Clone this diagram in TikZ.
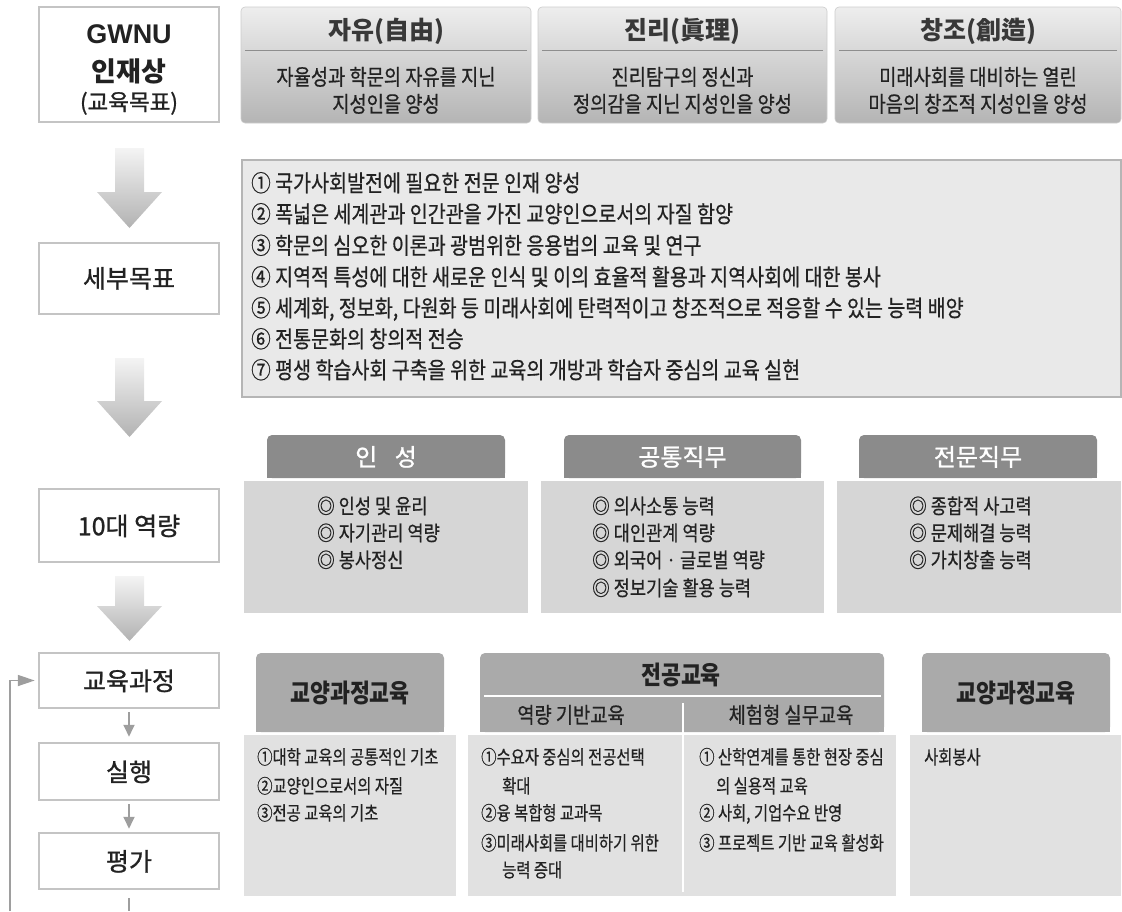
\documentclass[tikz,border=0pt]{standalone}
\usepackage{fontspec}
\setmainfont{Noto Sans CJK KR}
\newfontfamily\krn{Noto Sans CJK KR}
\newfontfamily\krm[FakeBold=1]{Noto Sans CJK KR}
\newfontfamily\krc[FakeStretch=0.85,FakeBold=0.6]{Noto Sans CJK KR}
\newfontfamily\krcb[FakeStretch=0.85]{Noto Sans CJK KR}
\newfontfamily\krcc[FakeStretch=0.8,FakeBold=0.5]{Noto Sans CJK KR}
\newfontfamily\lsans{Liberation Sans}
\usetikzlibrary{arrows.meta}
\definecolor{boxgray}{HTML}{C4C4C4}
\definecolor{txt}{HTML}{222222}
\definecolor{topA}{HTML}{EEEEEE}
\definecolor{topB}{HTML}{DEDEDE}
\definecolor{topC}{HTML}{B4B4B4}
\definecolor{topedge}{HTML}{CCCCCC}
\definecolor{topline}{HTML}{8E8E8E}
\definecolor{listfill}{HTML}{E9E9E9}
\definecolor{listborder}{HTML}{B5B5B5}
\definecolor{comphead}{HTML}{8B8B8B}
\definecolor{compbody}{HTML}{D6D6D6}
\definecolor{curhead}{HTML}{AAAAAA}
\definecolor{curbody}{HTML}{E1E1E1}
\definecolor{arrA}{HTML}{F4F4F4}
\definecolor{arrB}{HTML}{B2B2B2}
\definecolor{arrgray}{HTML}{9E9E9E}
\begin{document}
\begin{tikzpicture}[x=1pt,y=1pt,
  lbox/.style={draw=boxgray, line width=2.5pt, fill=white, minimum width=180pt, inner sep=0},
  topbox/.style={rounded corners=4pt, top color=topA, middle color=topB, bottom color=topC, draw=topedge, line width=0.6pt, minimum height=116pt, inner sep=0},
  listbox/.style={fill=listfill, draw=listborder, line width=2pt, inner sep=0},
  cheadbox/.style={fill=comphead, rounded corners=5pt, minimum height=43pt, inner sep=0},
  cbodybox/.style={fill=compbody, minimum height=132pt, inner sep=0},
  kheadbox/.style={fill=curhead, rounded corners=5pt, minimum height=79pt, inner sep=0},
  kbodybox/.style={fill=curbody, minimum height=161pt, inner sep=0},
  ttl/.style={font=\krn\bfseries\fontsize{25}{29}\selectfont, text=txt!90!white, inner sep=0, text height=18.5pt, text depth=0pt},
  tbody/.style={font=\krc\fontsize{22}{26}\selectfont, text=txt, inner sep=0, text height=16.3pt, text depth=0pt},
  gwl/.style={font=\lsans\bfseries\fontsize{27}{31}\selectfont, text=txt, inner sep=0, text height=19.3pt, text depth=0pt},
  gwk/.style={font=\krn\bfseries\fontsize{27}{31}\selectfont, text=txt, inner sep=0, text height=20pt, text depth=0pt},
  gwp/.style={font=\krm\fontsize{22.5}{26}\selectfont, text=txt, inner sep=0, text height=16.6pt, text depth=0pt},
  llab/.style={font=\krm\fontsize{25}{29}\selectfont, text=txt, inner sep=0, text height=18.5pt, text depth=0pt},
  litem/.style={font=\krc\fontsize{23}{27}\selectfont, text=txt, inner sep=0, text height=17pt, text depth=0pt, anchor=west},
  chead/.style={font=\krm\fontsize{24}{28}\selectfont, text=white, inner sep=0, text height=17.8pt, text depth=0pt},
  citem/.style={font=\krc\fontsize{20.7}{24}\selectfont, text=txt, inner sep=0, text height=15.3pt, text depth=0pt, anchor=west},
  khead/.style={font=\krcb\bfseries\fontsize{25.5}{29}\selectfont, text=txt, inner sep=0, text height=18.9pt, text depth=0pt},
  ksub/.style={font=\krc\fontsize{22}{26}\selectfont, text=txt, inner sep=0, text height=16.3pt, text depth=0pt},
  kitem/.style={font=\krcc\fontsize{19.2}{23}\selectfont, text=txt, inner sep=0, text height=14.2pt, text depth=0pt, anchor=west},
  sarr/.style={draw=arrgray, line width=1.8pt, -{Triangle[length=12pt,width=11pt]}},
  farr/.style={draw=arrgray, line width=1.8pt, -{Triangle[length=17pt,width=11pt]}},
  sline/.style={draw=arrgray, line width=1.8pt},
  bigarr/.style={top color=arrA, bottom color=arrB, draw=none}
]
\useasboundingbox (0,0) rectangle (1122,-911);

% ---------- left column ----------
\node[lbox, minimum height=115pt] (gw) at (129,-64.5) {};
\node[gwl] (gwa) at (129,-34) {GWNU};
\node[gwk] (gwb) at (129,-71) {인재상};
\node[gwp] (gwc) at (129,-102) {(교육목표)};

\node[lbox, minimum height=71pt] (sb) at (129,-278.5) {};
\node[llab] (sbt) at (129,-278.5) {세부목표};

\node[lbox, minimum height=73pt] (yr) at (129,-525.5) {};
\node[llab] (yrt) at (129,-526) {10대 역량};

\node[lbox, minimum height=55pt] (c1) at (129,-680.5) {};
\node[llab] (c1t) at (129,-681) {교육과정};
\node[lbox, minimum height=57pt] (c2) at (129,-771.5) {};
\node[llab] (c2t) at (129,-772) {실행};
\node[lbox, minimum height=56pt] (c3) at (129,-861) {};
\node[llab] (c3t) at (129,-861.5) {평가};

% big block arrows
\shade[bigarr] (115,-148) -- (144,-148) -- (144,-192) -- (162,-192) -- (129.5,-228) -- (97,-192) -- (115,-192) -- cycle;
\shade[bigarr] (115,-358) -- (144,-358) -- (144,-401) -- (162,-401) -- (129.5,-437) -- (97,-401) -- (115,-401) -- cycle;
\shade[bigarr] (115,-576) -- (144,-576) -- (144,-606) -- (162,-606) -- (129.5,-641) -- (97,-606) -- (115,-606) -- cycle;

% small arrows and feedback loop
\draw[sarr, shorten <=3pt, shorten >=5pt] (c1) -- (c2);
\draw[sarr, shorten <=3pt, shorten >=3pt] (c2) -- (c3);
\coordinate (pgb) at (129,-911);
\draw[sline, shorten <=8pt] (c3) -- (pgb);
\coordinate (fbs) at (10,-911);
\draw[farr, shorten >=3pt] (fbs) |- (c1);

% ---------- top row ----------
\node[topbox, minimum width=290pt] (t1) at (386,-65) {};
\node[topbox, minimum width=289pt] (t2) at (682.5,-65) {};
\node[topbox, minimum width=286pt] (t3) at (978,-65) {};
\draw[topline, line width=0.9pt] (245,-50) -- (527,-50);
\draw[topline, line width=0.9pt] (542,-50) -- (823,-50);
\draw[topline, line width=0.9pt] (839,-50) -- (1117,-50);
\node[ttl] (t1a) at (386,-30) {자유(自由)};
\node[tbody] (t1b) at (386,-77) {자율성과 학문의 자유를 지닌};
\node[tbody] (t1c) at (386,-104) {지성인을 양성};
\node[ttl] (t2a) at (682.5,-30) {진리(眞理)};
\node[tbody] (t2b) at (682.5,-77) {진리탐구의 정신과};
\node[tbody] (t2c) at (682.5,-104) {정의감을 지닌 지성인을 양성};
\node[ttl] (t3a) at (978,-30) {창조(創造)};
\node[tbody] (t3b) at (978,-77) {미래사회를 대비하는 열린};
\node[tbody] (t3c) at (978,-104) {마음의 창조적 지성인을 양성};

% ---------- detailed goals ----------
\node[listbox, minimum width=879pt, minimum height=237pt] (gl) at (681.5,-278.5) {};
\node[litem] (g1) at (251,-183) {① 국가사회발전에 필요한 전문 인재 양성};
\node[litem] (g2) at (251,-214) {② 폭넓은 세계관과 인간관을 가진 교양인으로서의 자질 함양};
\node[litem] (g3) at (251,-245.5) {③ 학문의 심오한 이론과 광범위한 응용법의 교육 및 연구};
\node[litem] (g4) at (251,-277) {④ 지역적 특성에 대한 새로운 인식 및 이의 효율적 활용과 지역사회에 대한 봉사};
\node[litem] (g5) at (251,-308) {⑤ 세계화, 정보화, 다원화 등 미래사회에 탄력적이고 창조적으로 적응할 수 있는 능력 배양};
\node[litem] (g6) at (251,-339) {⑥ 전통문화의 창의적 전승};
\node[litem] (g7) at (251,-370) {⑦ 평생 학습사회 구축을 위한 교육의 개방과 학습자 중심의 교육 실현};

% ---------- competencies ----------
\node[cheadbox, minimum width=238pt] (h1) at (386,-456.5) {};
\node[cheadbox, minimum width=237pt] (h2) at (682.5,-456.5) {};
\node[cheadbox, minimum width=238pt] (h3) at (978,-456.5) {};
\fill[comphead] (h1.west) rectangle (h1.south east);
\fill[comphead] (h2.west) rectangle (h2.south east);
\fill[comphead] (h3.west) rectangle (h3.south east);
\node[chead] (h1t) at (386,-457) {인\,\,\, 성};
\node[chead] (h2t) at (682.5,-457) {공통직무};
\node[chead] (h3t) at (978,-457) {전문직무};

\node[cbodybox, minimum width=284pt] (b1) at (386,-547) {};
\node[cbodybox, minimum width=283pt] (b2) at (682.5,-547) {};
\node[cbodybox, minimum width=284pt] (b3) at (979,-547) {};
\node[citem] (b1a) at (317,-506) {◎ 인성 및 윤리};
\node[citem] (b1b) at (317,-533) {◎ 자기관리 역량};
\node[citem] (b1c) at (317,-560) {◎ 봉사정신};
\node[citem] (b2a) at (592,-506) {◎ 의사소통 능력};
\node[citem] (b2b) at (592,-533) {◎ 대인관계 역량};
\node[citem] (b2c) at (592,-560) {◎ 외국어 · 글로벌 역량};
\node[citem] (b2d) at (592,-588) {◎ 정보기술 활용 능력};
\node[citem] (b3a) at (909,-506) {◎ 종합적 사고력};
\node[citem] (b3b) at (909,-533) {◎ 문제해결 능력};
\node[citem] (b3c) at (909,-560) {◎ 가치창출 능력};

% ---------- curriculum ----------
\node[kheadbox, minimum width=188pt] (ka) at (350,-692.5) {};
\node[kheadbox, minimum width=404pt] (kb) at (682,-692.5) {};
\node[kheadbox, minimum width=188pt] (kc) at (1016,-692.5) {};
\fill[curhead] (ka.west) rectangle (ka.south east);
\fill[curhead] (kb.west) rectangle (kb.south east);
\fill[curhead] (kc.west) rectangle (kc.south east);
\node[kbodybox, minimum width=212pt] (la) at (350,-815.5) {};
\node[kbodybox, minimum width=428pt] (lb) at (682,-815.5) {};
\node[kbodybox, minimum width=211pt] (lc) at (1015.5,-815.5) {};
\draw[white, line width=2pt] (484,-696) -- (881,-696);
\draw[white, line width=2pt] (683,-703) -- (683,-892);

\node[khead] (kat) at (350,-693) {교양과정교육};
\node[khead] (kbt) at (681,-675) {전공교육};
\node[ksub] (kbs1) at (571,-715) {역량 기반교육};
\node[ksub] (kbs2) at (791,-715) {체험형 실무교육};
\node[khead] (kct) at (1016,-693) {교양과정교육};

\node[kitem] (la1) at (257,-757) {①대학 교육의 공통적인 기초};
\node[kitem] (la2) at (257,-786) {②교양인으로서의 자질};
\node[kitem] (la3) at (257,-813) {③전공 교육의 기초};

\node[kitem] (lb1) at (481,-757) {①수요자 중심의 전공선택};
\node[kitem] (lb1x) at (502,-786) {확대};
\node[kitem] (lb2) at (481,-813) {②융 복합형 교과목};
\node[kitem] (lb3) at (481,-843) {③미래사회를 대비하기 위한};
\node[kitem] (lb3x) at (502,-870) {능력 증대};

\node[kitem] (lb4) at (699,-757) {① 산학연계를 통한 현장 중심};
\node[kitem] (lb4x) at (716,-786) {의 실용적 교육};
\node[kitem] (lb5) at (699,-813) {② 사회, 기업수요 반영};
\node[kitem] (lb6) at (699,-843) {③ 프로젝트 기반 교육 활성화};

\node[kitem] (lc1) at (924,-757) {사회봉사};
\end{tikzpicture}
\end{document}
